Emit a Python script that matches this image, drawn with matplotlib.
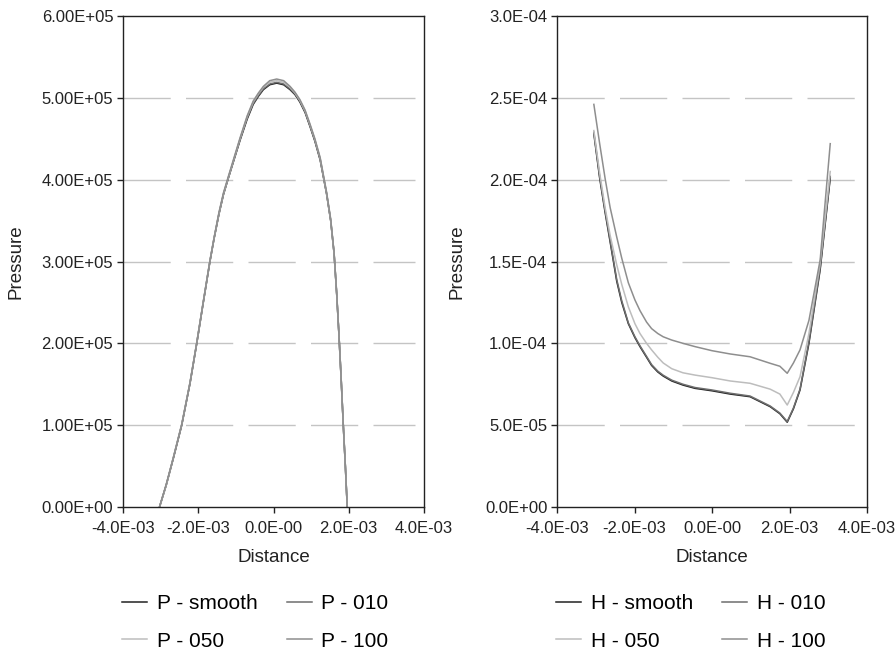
import numpy as np
import matplotlib.pyplot as plt

plt.rcParams['font.family'] = ['Liberation Sans', 'DejaVu Sans']

# pressure curves: distance in 1e-3, pressure in 1e5
p_x = [-3.03, -2.85, -2.66, -2.44, -2.22, -2.04, -1.87, -1.69, -1.58, -1.45, -1.33, -1.2,
       -0.89, -0.7, -0.54, -0.4, -0.27, -0.1, 0.085, 0.27, 0.44, 0.57, 0.70, 0.84, 0.97, 1.1,
       1.24, 1.41, 1.52, 1.61, 1.68, 1.74, 1.80, 1.855, 1.91, 1.96]
p_smooth = [0, 0.27, 0.60, 1.0, 1.51, 2.0, 2.49, 3.0, 3.28, 3.58, 3.82, 4.02,
            4.48, 4.74, 4.92, 5.02, 5.10, 5.16, 5.18, 5.16, 5.10, 5.04, 4.95, 4.82, 4.65, 4.47,
            4.24, 3.83, 3.5, 3.1, 2.6, 2.1, 1.55, 1.0, 0.5, 0]
p_010 = [0, 0.27, 0.60, 1.0, 1.51, 2.0, 2.49, 3.0, 3.28, 3.58, 3.82, 4.02,
         4.49, 4.75, 4.93, 5.03, 5.11, 5.17, 5.19, 5.17, 5.11, 5.05, 4.96, 4.83, 4.66, 4.48,
         4.25, 3.83, 3.5, 3.1, 2.6, 2.1, 1.55, 1.0, 0.5, 0]
p_050 = [0, 0.27, 0.61, 1.01, 1.52, 2.01, 2.50, 3.01, 3.29, 3.59, 3.83, 4.03,
         4.50, 4.77, 4.95, 5.05, 5.13, 5.19, 5.21, 5.19, 5.13, 5.06, 4.97, 4.84, 4.67, 4.49,
         4.26, 3.84, 3.51, 3.1, 2.6, 2.1, 1.55, 1.0, 0.5, 0]
p_100 = [0, 0.28, 0.61, 1.01, 1.52, 2.01, 2.50, 3.01, 3.29, 3.60, 3.84, 4.04,
         4.51, 4.78, 4.96, 5.06, 5.14, 5.21, 5.23, 5.21, 5.14, 5.07, 4.98, 4.85, 4.68, 4.50,
         4.27, 3.85, 3.52, 3.11, 2.61, 2.1, 1.55, 1.0, 0.5, 0]

# film thickness curves: distance in 1e-3, value in 1e-4
h_x = [-3.05, -2.9, -2.76, -2.63, -2.46, -2.33, -2.16, -1.99, -1.86, -1.69, -1.56, -1.4,
       -1.26, -1.04, -0.75, -0.44, 0.0, 0.47, 0.98, 1.5, 1.75, 1.94, 2.1, 2.27, 2.5, 2.79, 3.05]
h_smooth = [2.28, 2.01, 1.80, 1.62, 1.38, 1.25, 1.12, 1.035, 0.98, 0.915, 0.865, 0.825,
            0.80, 0.77, 0.745, 0.725, 0.71, 0.69, 0.674, 0.613, 0.57, 0.518, 0.60, 0.715, 1.0, 1.45, 2.01]
h_010 = [2.29, 2.02, 1.81, 1.63, 1.39, 1.26, 1.125, 1.04, 0.985, 0.92, 0.87, 0.83,
         0.805, 0.775, 0.75, 0.73, 0.715, 0.695, 0.678, 0.617, 0.574, 0.522, 0.605, 0.72, 1.01, 1.46, 2.02]
h_050 = [2.30, 2.04, 1.83, 1.66, 1.48, 1.36, 1.223, 1.12, 1.06, 1.0, 0.96, 0.915,
         0.88, 0.845, 0.82, 0.806, 0.79, 0.77, 0.756, 0.72, 0.69, 0.623, 0.70, 0.796, 1.06, 1.49, 2.05]
h_100 = [2.46, 2.22, 2.008, 1.83, 1.65, 1.52, 1.37, 1.265, 1.20, 1.13, 1.09, 1.06,
         1.04, 1.02, 1.0, 0.98, 0.955, 0.935, 0.918, 0.878, 0.86, 0.817, 0.88, 0.96, 1.14, 1.51, 2.22]

x_ticks = [-4e-3, -2e-3, 0, 2e-3, 4e-3]
x_ticklabels = ['-4.0E-03', '-2.0E-03', '0.0E-00', '2.0E-03', '4.0E-03']
p_yticks = [0, 1e5, 2e5, 3e5, 4e5, 5e5, 6e5]
p_yticklabels = ['0.00E+00', '1.00E+05', '2.00E+05', '3.00E+05', '4.00E+05', '5.00E+05', '6.00E+05']
h_yticks = [0, 5e-5, 1e-4, 1.5e-4, 2e-4, 2.5e-4, 3e-4]
h_yticklabels = ['0.0E+00', '5.0E-05', '1.0E-04', '1.5E-04', '2.0E-04', '2.5E-04', '3.0E-04']

colors = ['#222222', '#6e6e6e', '#bdbdbd', '#8e8e8e']

fig = plt.figure(figsize=(8.96, 6.51), dpi=100)
ax1 = fig.add_axes([0.1373, 0.2212, 0.3359, 0.7542])
ax2 = fig.add_axes([0.6217, 0.2212, 0.3460, 0.7542])

px = np.array(p_x) * 1e-3
for ys, c, lab in zip([p_smooth, p_010, p_050, p_100], colors,
                      ['P - smooth', 'P - 010', 'P - 050', 'P - 100']):
    ax1.plot(px, np.array(ys) * 1e5, color=c, lw=1.1, label=lab)

hx = np.array(h_x) * 1e-3
for ys, c, lab in zip([h_smooth, h_010, h_050, h_100], colors,
                      ['H - smooth', 'H - 010', 'H - 050', 'H - 100']):
    ax2.plot(hx, np.array(ys) * 1e-4, color=c, lw=1.1, label=lab)

for ax, yt, ytl, lx in [(ax1, p_yticks, p_yticklabels, -0.326),
                        (ax2, h_yticks, h_yticklabels, -0.294)]:
    ax.set_xlim(-4e-3, 4e-3)
    ax.set_ylim(yt[0], yt[-1])
    ax.set_xticks(x_ticks)
    ax.set_xticklabels(x_ticklabels)
    ax.set_yticks(yt)
    ax.set_yticklabels(ytl)
    ax.tick_params(direction='out', length=4, width=1, labelsize=12, colors='#222222')
    ax.tick_params(axis='x', pad=6)
    ax.tick_params(axis='y', pad=3)
    for s in ax.spines.values():
        s.set_color('#222222')
        s.set_linewidth(1)
    # excel-style dashed gridlines stopping short of the right edge
    for v in yt[1:-1]:
        ax.axhline(v, xmin=0, xmax=0.97, color='#c4c4c4', lw=1, ls=(0, (34, 11)), zorder=0.5)
    ax.set_xlabel('Distance', fontsize=13.5, color='#222222')
    ax.set_ylabel('Pressure', fontsize=13.5, color='#222222')
    ax.xaxis.set_label_coords(0.5, -0.085)
    ax.yaxis.set_label_coords(lx, 0.5)

# legend filled row by row: smooth, 010 / 050, 100
for ax, cx in [(ax1, 0.285), (ax2, 0.771)]:
    h, l = ax.get_legend_handles_labels()
    order = [0, 2, 1, 3]
    ax.legend([h[i] for i in order], [l[i] for i in order],
              loc='center', bbox_to_anchor=(cx, 0.044), bbox_transform=fig.transFigure,
              ncol=2, frameon=False, fontsize=15, handlelength=1.2, handletextpad=0.45,
              columnspacing=1.4, labelspacing=0.9)

fig.savefig('out.png', dpi=100)
